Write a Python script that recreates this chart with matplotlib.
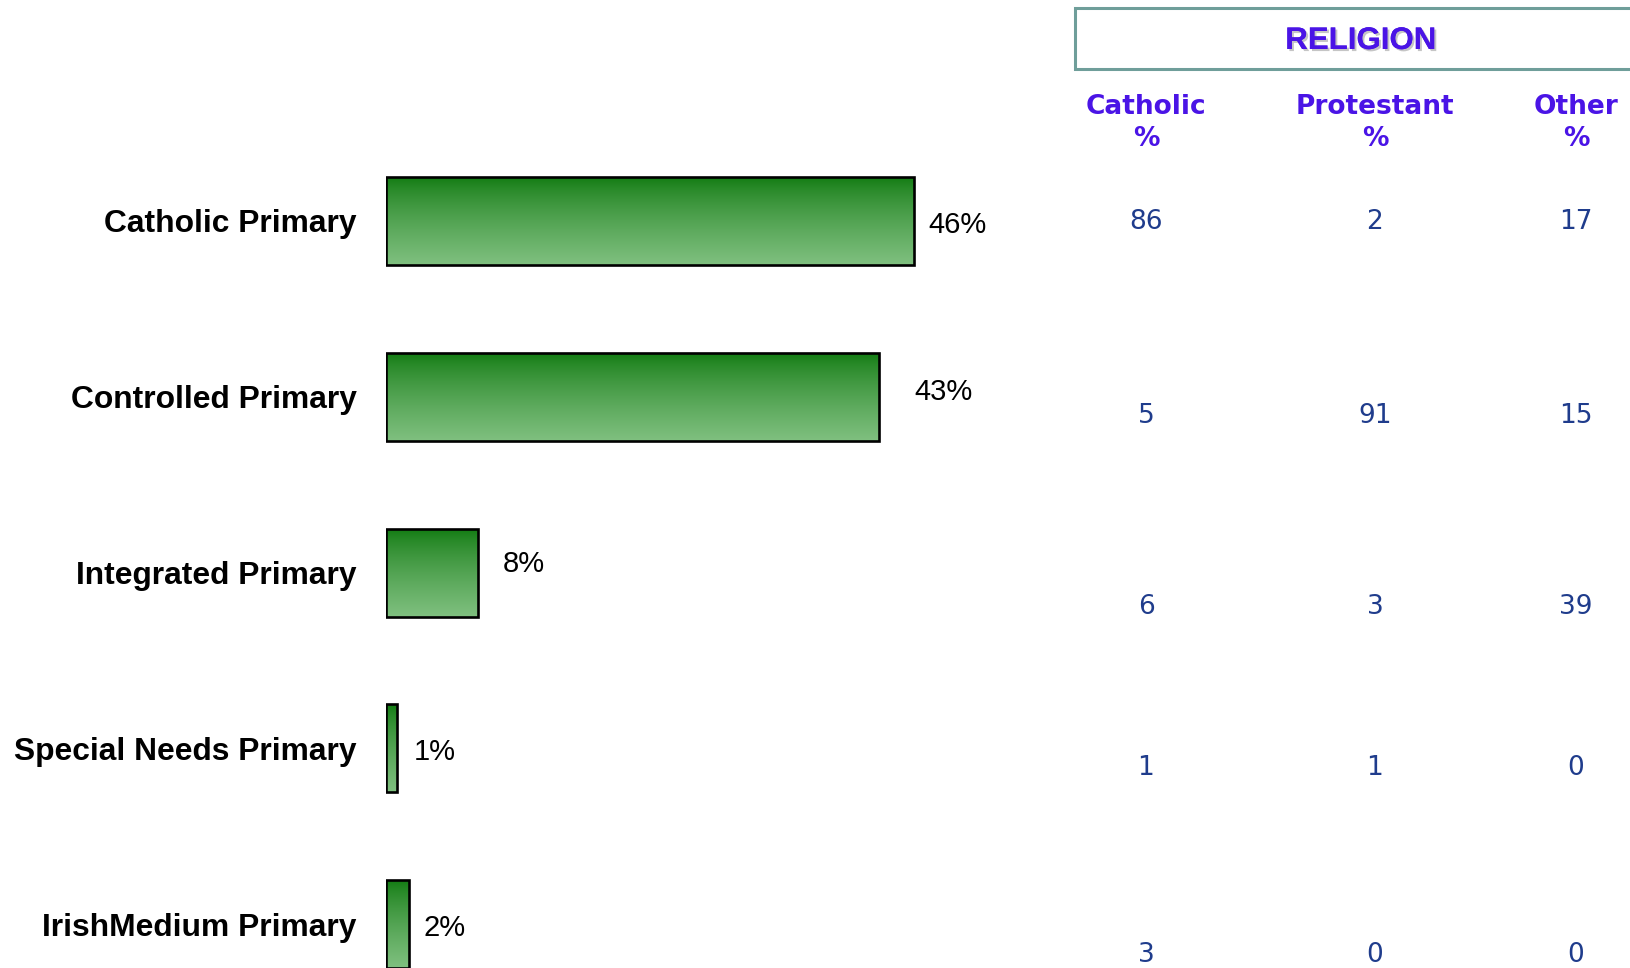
import matplotlib
matplotlib.use("Agg")
import matplotlib.pyplot as plt
import matplotlib.patheffects as pe
from matplotlib.patches import Rectangle
import numpy as np

schools = ["Catholic Primary", "Controlled Primary", "Integrated Primary",
           "Special Needs Primary", "IrishMedium Primary"]
share = [46, 43, 8, 1, 2]
share_labels = ["46%", "43%", "8%", "1%", "2%"]

religion_cols = ["Catholic\n%", "Protestant\n%", "Other\n%"]
catholic = [86, 5, 6, 1, 3]
protestant = [2, 91, 3, 1, 0]
other = [17, 15, 39, 0, 0]

W, H = 1631, 968
fig = plt.figure(figsize=(W / 100, H / 100), dpi=100)

# bar area: 0% at x=386px, 11.47 px per percent, bar pitch 175.8 px
ax = fig.add_axes([386 / W, 0, 1 - 386 / W, 1])
pitch = 175.8
top0 = 221
y = np.arange(len(schools))
bars = ax.barh(y, share, height=0.5, facecolor="none", edgecolor="black",
               linewidth=1.9, zorder=3)

# vertical gradient inside each bar
t = np.linspace(0, 1, 256) ** 0.75
dark = np.array([16, 122, 16]) / 255
light = np.array([128, 192, 128]) / 255
grad = (dark[None, :] * (1 - t[:, None]) + light[None, :] * t[:, None])[:, None, :]
for b in bars:
    x0, y0 = b.get_x(), b.get_y()
    w, h = b.get_width(), b.get_height()
    im = ax.imshow(grad, extent=(x0, x0 + w, y0 + h, y0), aspect="auto",
                   zorder=2, interpolation="bilinear")
    im.set_clip_path(Rectangle((x0, y0), w, h, transform=ax.transData))

ax.set_xlim(0, (W - 386) / 11.47)
ax.set_ylim((H - top0) / pitch, -top0 / pitch)

ax.set_yticks(y)
ax.set_yticklabels(schools, fontsize=22.85, fontweight="bold",
                   family="Liberation Sans")
ax.tick_params(axis="y", length=0, pad=21)
ax.set_xticks([])
for s in ax.spines.values():
    s.set_visible(False)

# value labels (small offsets mimic the original placement)
dx = [1.3, 3.1, 2.2, 1.4, 1.3]
dy = [0.02, -0.025, -0.05, 0.02, 0.02]
for i, (v, lab) in enumerate(zip(share, share_labels)):
    ax.text(v + dx[i], i + dy[i], lab, va="center", ha="left",
            fontsize=21, family="Liberation Sans", color="black")

# religion table
fig.patches.append(Rectangle((1075 / W, 1 - 69 / H), 700 / W, 61 / H,
                             transform=fig.transFigure, facecolor="white",
                             edgecolor="#6f9e9a", linewidth=2.2))
fig.text(1361 / W, 1 - 41 / H, "RELIGION", ha="center", va="center",
         fontsize=22.5, fontweight="bold", family="Liberation Sans",
         color="#4a14e6",
         path_effects=[pe.withSimplePatchShadow(offset=(1.5, -1.5),
                                                shadow_rgbFace="gray",
                                                alpha=0.45), pe.Normal()])

col_x = [1146, 1375, 1576]
row_y = [222, 416, 607, 768, 955]
for cx, head, vals in zip(col_x, religion_cols, [catholic, protestant, other]):
    fig.text(cx / W, 1 - 123 / H, head, ha="center", va="center",
             fontsize=19, fontweight="bold", family="DejaVu Sans",
             color="#4a14e6", linespacing=1.3)
    for ry, v in zip(row_y, vals):
        fig.text(cx / W, 1 - ry / H, str(v), ha="center", va="center",
                 fontsize=19, family="DejaVu Sans", color="#1f3c8c")

fig.savefig("out.png", dpi=100)
